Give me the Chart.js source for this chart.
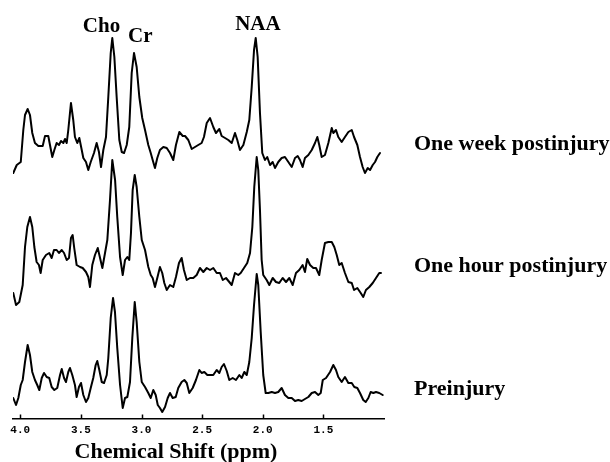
<!DOCTYPE html>
<html>
<head>
<meta charset="utf-8">
<script src="https://cdn.jsdelivr.net/npm/chart.js@4.4.1/dist/chart.umd.min.js"></script>
<style>
html,body{margin:0;padding:0;background:#fff;}
canvas{display:block;}
</style>
</head>
<body>
<canvas id="c" width="610" height="462"></canvas>
<script>
// ---- data (chemical shift in ppm, signal in arbitrary units; spectra stacked) ----
const seriesNames = ['One week postinjury', 'One hour postinjury', 'Preinjury'];
const peakNames = ['Cho', 'Cr', 'NAA'];
const tickValues = [4.0, 3.5, 3.0, 2.5, 2.0, 1.5];
const tickLabels = ['4.0', '3.5', '3.0', '2.5', '2.0', '1.5'];
const axisTitle = 'Chemical Shift (ppm)';

const weekPpm = [4.058,4.029,3.996,3.975,3.961,3.939,3.920,3.901,3.879,3.851,3.815,3.796,3.769,3.755,3.736,3.719,3.700,3.681,3.664,3.645,3.631,3.617,3.604,3.582,3.563,3.549,3.530,3.513,3.493,3.480,3.458,3.439,3.419,3.392,3.370,3.351,3.334,3.315,3.293,3.274,3.254,3.241,3.224,3.205,3.183,3.163,3.144,3.122,3.101,3.081,3.062,3.040,3.018,2.994,2.971,2.944,2.924,2.908,2.889,2.870,2.848,2.820,2.792,2.765,2.738,2.716,2.688,2.660,2.641,2.614,2.586,2.559,2.532,2.504,2.485,2.462,2.435,2.408,2.386,2.358,2.339,2.311,2.284,2.256,2.229,2.210,2.188,2.160,2.132,2.111,2.091,2.072,2.058,2.042,2.023,2.004,1.982,1.963,1.940,1.918,1.899,1.872,1.844,1.817,1.789,1.761,1.734,1.712,1.693,1.671,1.652,1.624,1.596,1.569,1.550,1.534,1.514,1.487,1.459,1.431,1.418,1.396,1.377,1.349,1.322,1.294,1.266,1.247,1.220,1.198,1.176,1.157,1.134,1.115,1.093,1.074,1.055,1.033];
const weekVal = [246,254,257,289,304,310,304,286,276,273,273,283,283,274,262,269,276,274,278,276,280,276,289,316,299,282,276,281,269,261,257,249,257,266,276,267,252,269,282,322,366,381,362,322,279,267,266,274,292,346,366,352,322,301,289,274,266,259,251,261,269,272,271,266,259,274,287,283,283,279,270,272,274,276,282,296,301,292,286,290,283,281,279,276,286,279,269,274,287,299,332,369,381,362,306,266,259,262,254,257,251,257,261,262,257,252,261,263,259,252,261,264,269,276,282,274,262,264,276,291,286,289,282,277,282,287,289,282,274,262,252,246,251,249,254,257,262,266];

const hourPpm = [4.058,4.035,4.008,3.980,3.961,3.942,3.920,3.901,3.884,3.865,3.846,3.832,3.815,3.788,3.761,3.741,3.722,3.700,3.681,3.658,3.639,3.617,3.598,3.582,3.568,3.555,3.535,3.507,3.485,3.458,3.439,3.425,3.406,3.384,3.361,3.342,3.323,3.301,3.282,3.260,3.241,3.218,3.200,3.177,3.155,3.136,3.117,3.101,3.087,3.073,3.056,3.040,3.018,2.998,2.971,2.944,2.924,2.908,2.889,2.870,2.848,2.829,2.812,2.792,2.765,2.738,2.716,2.691,2.669,2.650,2.627,2.600,2.573,2.545,2.518,2.490,2.462,2.435,2.408,2.380,2.353,2.330,2.303,2.276,2.256,2.229,2.202,2.182,2.155,2.128,2.105,2.086,2.070,2.050,2.037,2.023,2.009,1.996,1.968,1.946,1.918,1.891,1.864,1.836,1.808,1.781,1.753,1.726,1.699,1.671,1.652,1.633,1.610,1.583,1.561,1.534,1.514,1.487,1.459,1.431,1.410,1.390,1.369,1.349,1.322,1.294,1.266,1.247,1.220,1.192,1.171,1.149,1.121,1.093,1.066,1.039,1.025];
const hourVal = [126,114,117,134,172,192,202,192,172,157,154,146,159,164,166,161,169,169,166,169,166,159,161,181,184,171,154,152,151,147,142,132,154,164,171,161,151,166,179,219,259,239,202,162,144,159,162,159,186,229,244,232,202,179,169,152,144,141,132,141,152,146,136,129,134,132,142,156,161,149,139,141,141,144,151,147,151,149,151,146,146,139,141,137,134,146,144,146,151,156,166,192,232,262,249,209,159,144,139,134,141,137,136,141,137,141,134,146,149,154,147,160,154,151,151,144,159,176,177,177,172,164,154,156,146,137,136,129,131,126,122,129,132,136,141,146,146];

const prePpm = [4.058,4.035,4.016,3.996,3.980,3.961,3.939,3.920,3.901,3.879,3.860,3.843,3.823,3.804,3.782,3.761,3.741,3.719,3.695,3.672,3.658,3.639,3.623,3.604,3.590,3.571,3.549,3.535,3.516,3.499,3.480,3.458,3.439,3.419,3.398,3.378,3.365,3.348,3.328,3.309,3.287,3.274,3.254,3.235,3.219,3.200,3.177,3.155,3.136,3.117,3.095,3.076,3.056,3.040,3.018,2.998,2.971,2.944,2.924,2.903,2.883,2.866,2.848,2.829,2.806,2.784,2.765,2.743,2.718,2.697,2.669,2.647,2.627,2.606,2.578,2.551,2.523,2.504,2.482,2.457,2.429,2.408,2.380,2.358,2.339,2.320,2.297,2.276,2.248,2.221,2.193,2.174,2.152,2.132,2.111,2.091,2.072,2.050,2.037,2.017,1.996,1.976,1.954,1.926,1.899,1.872,1.844,1.817,1.789,1.761,1.734,1.707,1.679,1.652,1.624,1.596,1.569,1.542,1.522,1.505,1.478,1.445,1.418,1.396,1.377,1.349,1.322,1.294,1.266,1.245,1.220,1.198,1.171,1.151,1.129,1.110,1.088,1.066,1.039,1.011];
const preVal = [21,14,21,34,39,57,74,64,47,39,34,29,41,46,42,41,32,29,31,44,50,41,37,47,51,44,34,22,32,36,24,17,21,31,41,54,58,49,37,36,44,61,101,121,107,71,34,11,21,22,37,81,117,97,57,37,32,26,21,29,24,14,11,7,12,21,26,21,22,31,37,39,36,26,31,39,49,46,47,44,44,44,49,46,52,55,48,39,41,39,44,41,47,44,57,81,114,145,134,87,44,26,26,27,26,27,31,24,21,21,18,19,18,20,22,26,27,24,26,39,41,47,54,49,42,37,42,36,36,32,31,26,19,17,21,27,26,27,26,24];

// ---- layout / style (not data) ----
const SERIF = '"Liberation Serif", "Times New Roman", serif';
const peakLabelPpm = [3.33, 3.01, 2.04];
const peakLabelBase = [31.5, 41.5, 30];
const seriesLabelBase = [150, 272, 395];
const seriesLabelX = 414;

function pts(xs, ys) { return xs.map((x, i) => ({ x: x, y: ys[i] })); }

const ds = [
  { label: seriesNames[0], data: pts(weekPpm, weekVal) },
  { label: seriesNames[1], data: pts(hourPpm, hourVal) },
  { label: seriesNames[2], data: pts(prePpm, preVal) }
].map(d => Object.assign(d, {
  borderColor: '#000', borderWidth: 2, pointRadius: 0, tension: 0, fill: false,
  borderJoinStyle: 'round', borderCapStyle: 'round'
}));

const decor = {
  id: 'decor',
  afterDraw(chart) {
    const ctx = chart.ctx, xs = chart.scales.x;
    const bottom = chart.chartArea.bottom;
    ctx.save();
    // tick marks pointing up from the axis line
    ctx.strokeStyle = '#000';
    ctx.lineWidth = 1.5;
    tickValues.forEach(v => {
      const px = Math.round(xs.getPixelForValue(v)) + 0.5;
      ctx.beginPath();
      ctx.moveTo(px, bottom);
      ctx.lineTo(px, bottom - 4.5);
      ctx.stroke();
    });
    ctx.fillStyle = '#000';
    ctx.textBaseline = 'alphabetic';
    // peak labels
    ctx.font = 'bold 21px ' + SERIF;
    ctx.textAlign = 'center';
    peakNames.forEach((t, i) => {
      ctx.fillText(t, xs.getPixelForValue(peakLabelPpm[i]), peakLabelBase[i]);
    });
    // series labels
    ctx.font = 'bold 22px ' + SERIF;
    ctx.textAlign = 'left';
    seriesNames.forEach((t, i) => {
      ctx.fillText(t, seriesLabelX, seriesLabelBase[i]);
    });
    // axis title
    ctx.textAlign = 'center';
    ctx.fillText(axisTitle, 176, 458);
    ctx.restore();
  }
};

new Chart(document.getElementById('c'), {
  type: 'line',
  data: { datasets: ds },
  options: {
    responsive: false,
    animation: false,
    devicePixelRatio: 1,
    layout: { padding: { left: 13, right: 226, top: 0, bottom: 0 } },
    plugins: { legend: { display: false }, tooltip: { enabled: false } },
    scales: {
      x: {
        type: 'linear',
        min: 1.0,
        max: 4.06,
        reverse: true,
        grid: { display: false, drawTicks: false },
        border: { display: true, color: '#000', width: 1.5 },
        ticks: {
          color: '#000',
          padding: 5,
          maxRotation: 0,
          autoSkip: false,
          font: { family: '"Liberation Mono", "DejaVu Sans Mono", monospace', size: 11, weight: 'bold' },
          callback: (v, i) => tickLabels[i]
        },
        afterBuildTicks: (s) => { s.ticks = tickValues.map(v => ({ value: v })); },
        afterFit: (s) => { s.height = 43; }
      },
      y: { display: false, min: 0, max: 419 }
    }
  },
  plugins: [decor]
});
</script>
</body>
</html>
